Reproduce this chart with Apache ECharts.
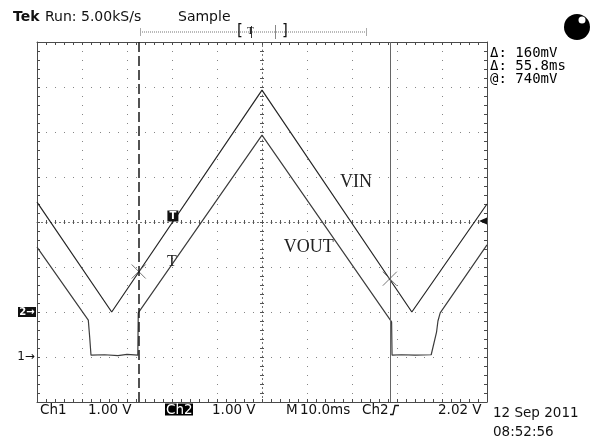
<!DOCTYPE html>
<html><head><meta charset="utf-8">
<script src="https://cdn.jsdelivr.net/npm/echarts@6/dist/echarts.min.js"></script>
<style>html,body{margin:0;padding:0;background:#fff}#c{width:595px;height:439px}</style>
</head><body><div id="c"></div>
<script>
// ---- data (time in ms, voltage in V) ----
const vinTime  = [-50, -33.4, 0, 33.3, 50];
const vinVolts = [2.44, 0.00, 4.93, 0.00, 2.40];
const voutTime  = [-50, -38.6, -38.3, -38.0, -35.0, -32.0, -30.0, -27.6, -27.5, 0, 28.8, 28.9, 31.0, 34.0, 37.6, 38.0, 38.8, 39.1, 39.6, 50];
const voutVolts = [2.44, 0.82, 0.45, 0.04, 0.05, 0.03, 0.06, 0.04, 0.98, 4.93, 0.78, 0.04, 0.05, 0.04, 0.05, 0.09, 0.56, 0.80, 0.98, 2.49];
const cursorTimes = [-27.4, 28.4];
const cursorVolts = [0.90, 0.74];
const trigTime = -19.8, trigLevel = 2.02;
const ch1Offset = -3, ch2Offset = -2, voltsPerDiv = 1;
const xTicks = {min: -50, max: 50, interval: 10};
const yTicks = {min: -4, max: 4, interval: 1};

const toDiv = (v, off) => v / voltsPerDiv + off;
const vinData = vinTime.map((t, i) => [t, toDiv(vinVolts[i], ch2Offset)]);
const voutData = voutTime.map((t, i) => [t, toDiv(voutVolts[i], ch1Offset)]);
const cursorData = cursorTimes.map((t, i) => [t, toDiv(cursorVolts[i], ch2Offset)]);

const frameColor = '#4a4a4a';
function axis(base, pos, kind) {
  const a = Object.assign({type: 'value', position: pos, axisLabel: {show: false}, splitLine: {show: false}}, base);
  if (kind === 'frame') {
    a.axisLine = {show: true, onZero: false, lineStyle: {color: frameColor, width: 1}};
    a.axisTick = {show: true, inside: true, length: 3, lineStyle: {color: frameColor}};
    a.minorTick = {show: true, splitNumber: 5, length: 3, lineStyle: {color: frameColor}};
  } else {
    a.axisLine = {show: true, onZero: true, onZeroAxisIndex: 0,
      lineStyle: {color: '#666', width: 1, type: [1, 3.5], opacity: kind === 'centerA' ? 1 : 0}};
    a.axisTick = {show: true, inside: kind === 'centerA', length: 2, lineStyle: {color: '#555'}};
    a.minorTick = {show: true, splitNumber: 5, length: 2, lineStyle: {color: '#555'}};
  }
  return a;
}
const xAxes = [axis(xTicks, 'bottom', 'frame'), axis(xTicks, 'top', 'frame'), axis(xTicks, 'bottom', 'centerA'), axis(xTicks, 'bottom', 'centerB')];
xAxes[0].splitLine = {show: true, lineStyle: {color: '#858585', width: 1, type: [1, 8]}};
const yAxes = [axis(yTicks, 'left', 'frame'), axis(yTicks, 'right', 'frame'), axis(yTicks, 'left', 'centerA'), axis(yTicks, 'left', 'centerB')];
yAxes[0].splitLine = {show: true, lineStyle: {color: '#858585', width: 1, type: [1, 8]}};

const clear = {color: 'rgba(0,0,0,0)'};
const sans = 'DejaVu Sans';
function txt(x, y, s, opt) {
  return {type: 'text', x: x, y: y, silent: true, z: 10,
    style: Object.assign({text: s, fontFamily: sans, fontSize: 13.5, fill: '#111', verticalAlign: 'middle', align: 'left'}, opt || {})};
}

const option = {
  animation: false,
  backgroundColor: '#fff',
  grid: {left: 37, right: 108, top: 42, bottom: 37},
  xAxis: xAxes,
  yAxis: yAxes,
  series: [
    {
      name: 'VIN', type: 'line', data: vinData, showSymbol: false, symbol: 'none',
      lineStyle: {color: '#262626', width: 1.2}, z: 3,
      markLine: {
        silent: true, symbol: ['none', 'none'], label: {show: false},
        data: [
          {xAxis: cursorTimes[0], lineStyle: {type: [10, 4], color: '#1a1a1a', width: 1.5}},
          {xAxis: cursorTimes[1], lineStyle: {type: 'solid', color: '#666', width: 1}}
        ]
      },
      markPoint: {
        silent: true,
        data: [
          {coord: [xTicks.min, ch2Offset], symbol: 'rect', symbolSize: [18, 10], symbolOffset: [-10, 0],
            itemStyle: {color: '#111'}, label: {show: true, position: 'inside', formatter: '2\u2192', color: '#fff', fontSize: 10, fontWeight: 'bold', fontFamily: sans}},
          {coord: [trigTime, 0], symbol: 'rect', symbolSize: [11, 11], symbolOffset: [0, -6],
            itemStyle: {color: '#111'}, label: {show: true, position: 'inside', formatter: 'T', color: '#fff', fontSize: 10, fontWeight: 'bold', fontFamily: sans}},
          {coord: [xTicks.max, toDiv(trigLevel, ch2Offset)], symbol: 'triangle', symbolRotate: 90, symbolSize: [7, 8], symbolOffset: [-4, 0],
            itemStyle: {color: '#111'}, label: {show: false}},
          {coord: [20.9, 0.89], symbol: 'circle', symbolSize: 1, itemStyle: clear,
            label: {show: true, position: 'inside', formatter: 'VIN', color: '#222', fontSize: 18, fontFamily: 'Liberation Serif'}}
        ]
      }
    },
    {
      name: 'VOUT', type: 'line', data: voutData, showSymbol: false, symbol: 'none',
      lineStyle: {color: '#3c3c3c', width: 1.2}, z: 3,
      markPoint: {
        silent: true,
        data: [
          {coord: [xTicks.min, ch1Offset], symbol: 'circle', symbolSize: 1, itemStyle: clear,
            label: {show: true, position: 'inside', offset: [-11, 0], formatter: '1\u2192', color: '#111', fontSize: 12, fontFamily: sans}},
          {coord: [10.4, -0.56], symbol: 'circle', symbolSize: 1, itemStyle: clear,
            label: {show: true, position: 'inside', formatter: 'VOUT', color: '#222', fontSize: 18, fontFamily: 'Liberation Serif'}},
          {coord: [-20.0, -0.89], symbol: 'circle', symbolSize: 1, itemStyle: clear,
            label: {show: true, position: 'inside', formatter: 'T', color: '#222', fontSize: 16, fontFamily: 'Liberation Serif'}}
        ]
      }
    },
    {
      name: 'cursors', type: 'scatter', data: cursorData, z: 4,
      symbol: 'path://M0,0L10,10M10,0L0,10', symbolSize: 14,
      itemStyle: {color: 'rgba(0,0,0,0)', borderColor: '#555', borderWidth: 1}
    }
  ],
  graphic: [
    txt(13, 17, 'Tek', {fontWeight: 'bold', fontSize: 14}),
    txt(45, 17, 'Run: 5.00kS/s', {fontSize: 14}),
    txt(178, 17, 'Sample', {fontSize: 14}),
    // record/trigger position bar
    {type: 'line', silent: true, shape: {x1: 140, y1: 32, x2: 366, y2: 32}, style: {stroke: '#777', lineWidth: 1, lineDash: [1, 1]}},
    {type: 'line', silent: true, shape: {x1: 140.5, y1: 28, x2: 140.5, y2: 36}, style: {stroke: '#aaa', lineWidth: 1}},
    {type: 'line', silent: true, shape: {x1: 366.5, y1: 28, x2: 366.5, y2: 36}, style: {stroke: '#aaa', lineWidth: 1}},
    {type: 'line', silent: true, shape: {x1: 275.5, y1: 25, x2: 275.5, y2: 39}, style: {stroke: '#888', lineWidth: 1}},
    txt(237, 31, '[', {fontSize: 15}),
    txt(282, 31, ']', {fontSize: 15}),
    txt(247, 31, 'T', {fontSize: 11, fontFamily: 'Liberation Serif'}),
    {type: 'line', silent: true, shape: {x1: 251.5, y1: 26, x2: 251.5, y2: 38}, style: {stroke: '#333', lineWidth: 1}},
    // ball
    {type: 'circle', silent: true, shape: {cx: 577, cy: 27, r: 13}, style: {fill: '#000'}},
    {type: 'circle', silent: true, shape: {cx: 582, cy: 20, r: 3.5}, style: {fill: '#fff'}},
    // readouts
    txt(490, 53, '\u0394: 160mV', {fontFamily: 'DejaVu Sans Mono', fontSize: 14, fill: '#000'}),
    txt(490, 66, '\u0394: 55.8ms', {fontFamily: 'DejaVu Sans Mono', fontSize: 14, fill: '#000'}),
    txt(490, 79, '@: 740mV', {fontFamily: 'DejaVu Sans Mono', fontSize: 14, fill: '#000'}),
    // bottom status line
    txt(40, 410, 'Ch1'),
    txt(88, 410, '1.00 V'),
    {type: 'rect', silent: true, shape: {x: 165, y: 403.5, width: 28, height: 12}, style: {fill: '#000'}},
    txt(166, 410, 'Ch2', {fill: '#fff'}),
    txt(212, 410, '1.00 V'),
    txt(286, 410, 'M'),
    txt(300, 410, '10.0ms'),
    txt(362, 410, 'Ch2'),
    {type: 'polyline', silent: true, shape: {points: [[390, 414.5], [393, 414.5], [395, 405.5], [399, 405.5]]}, style: {stroke: '#111', lineWidth: 1.3, fill: null}},
    txt(438, 410, '2.02 V'),
    txt(493, 413, '12 Sep 2011'),
    txt(493, 432, '08:52:56')
  ]
};
const chart = echarts.init(document.getElementById('c'));
chart.setOption(option);
</script>
</body></html>
